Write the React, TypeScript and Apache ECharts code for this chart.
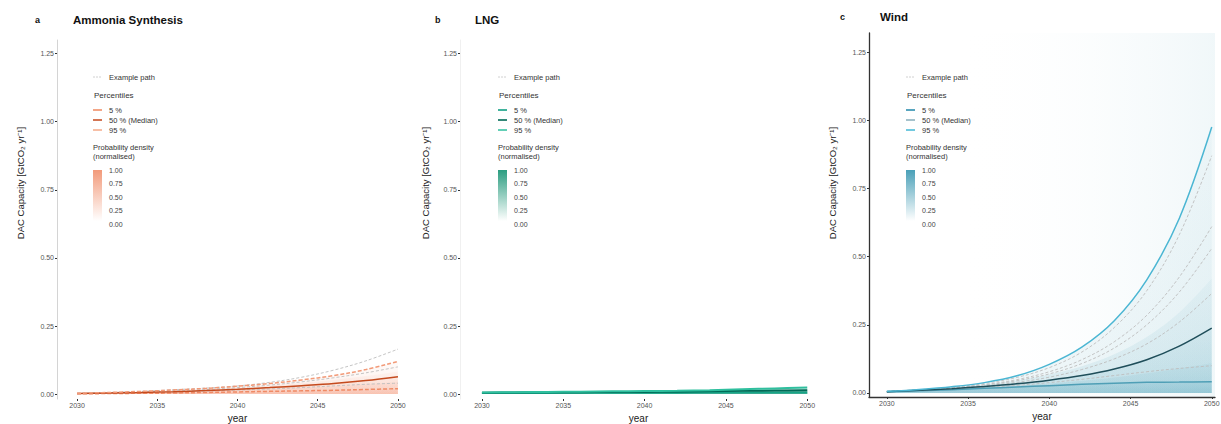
import React, { useEffect, useRef } from "react";
import * as echarts from "echarts";

const YEARS = [2030, 2032, 2034, 2036, 2038, 2040, 2042, 2044, 2046, 2048, 2050];
const X_TICKS = [2030, 2035, 2040, 2045, 2050];
const Y_TICKS = [0, 0.25, 0.5, 0.75, 1.0, 1.25];
const DENSITY_TICKS = ["1.00", "0.75", "0.50", "0.25", "0.00"];
const PCT_LABELS = ["5 %", "50 % (Median)", "95 %"];
const PANEL_TITLES = ["Ammonia Synthesis", "LNG", "Wind"];
const PANEL_LETTERS = ["a", "b", "c"];

// a — Ammonia Synthesis
const AMM_P5 = [0.001, 0.002, 0.003, 0.004, 0.006, 0.008, 0.01, 0.012, 0.014, 0.017, 0.02];
const AMM_P25 = [0.002, 0.003, 0.005, 0.007, 0.01, 0.014, 0.018, 0.023, 0.029, 0.036, 0.045];
const AMM_P50 = [0.002, 0.004, 0.006, 0.009, 0.013, 0.018, 0.024, 0.031, 0.039, 0.05, 0.064];
const AMM_P75 = [0.003, 0.005, 0.008, 0.012, 0.017, 0.023, 0.031, 0.041, 0.052, 0.066, 0.083];
const AMM_P95 = [0.003, 0.006, 0.01, 0.015, 0.021, 0.029, 0.039, 0.052, 0.068, 0.09, 0.12];
const AMM_EX1 = [0.003, 0.006, 0.01, 0.016, 0.022, 0.03, 0.043, 0.062, 0.088, 0.122, 0.165];
const AMM_EX2 = [0.002, 0.005, 0.008, 0.012, 0.017, 0.024, 0.033, 0.045, 0.06, 0.078, 0.1];
const AMM_EX3 = [0.002, 0.003, 0.005, 0.008, 0.011, 0.015, 0.019, 0.024, 0.03, 0.036, 0.04];

// b — LNG
const LNG_P5 = [0.004, 0.004, 0.004, 0.005, 0.005, 0.005, 0.005, 0.006, 0.006, 0.006, 0.006];
const LNG_P25 = [0.004, 0.005, 0.006, 0.006, 0.007, 0.007, 0.007, 0.008, 0.009, 0.01, 0.011];
const LNG_P50 = [0.005, 0.006, 0.007, 0.007, 0.008, 0.008, 0.009, 0.01, 0.012, 0.013, 0.014];
const LNG_P75 = [0.005, 0.006, 0.007, 0.008, 0.009, 0.01, 0.011, 0.012, 0.015, 0.017, 0.019];
const LNG_P95 = [0.006, 0.007, 0.008, 0.009, 0.01, 0.011, 0.012, 0.014, 0.018, 0.021, 0.024];

// c — Wind
const WIND_P5 = [0.005, 0.008, 0.012, 0.017, 0.022, 0.027, 0.032, 0.036, 0.039, 0.04, 0.041];
const WIND_P25 = [0.005, 0.009, 0.014, 0.02, 0.027, 0.035, 0.045, 0.057, 0.072, 0.09, 0.11];
const WIND_P50 = [0.005, 0.01, 0.016, 0.024, 0.034, 0.047, 0.064, 0.088, 0.122, 0.172, 0.238];
const WIND_P75 = [0.006, 0.012, 0.02, 0.031, 0.046, 0.068, 0.098, 0.142, 0.205, 0.295, 0.42];
const WIND_P95 = [0.006, 0.013, 0.023, 0.038, 0.063, 0.105, 0.168, 0.265, 0.415, 0.64, 0.975];
const WIND_EX1 = [0.006, 0.012, 0.021, 0.035, 0.057, 0.093, 0.15, 0.24, 0.375, 0.58, 0.87];
const WIND_EX2 = [0.006, 0.011, 0.019, 0.031, 0.049, 0.078, 0.122, 0.188, 0.285, 0.425, 0.61];
const WIND_EX3 = [0.005, 0.011, 0.018, 0.029, 0.045, 0.07, 0.108, 0.165, 0.25, 0.37, 0.53];
const WIND_EX4 = [0.005, 0.01, 0.017, 0.026, 0.039, 0.058, 0.086, 0.125, 0.18, 0.26, 0.365];
const WIND_EX5 = [0.005, 0.009, 0.014, 0.02, 0.028, 0.038, 0.05, 0.064, 0.078, 0.09, 0.1];

const FONT = "Liberation Sans, Arial, Helvetica, sans-serif";

type PanelCfg = {
  p5: number[]; p25: number[]; p50: number[]; p75: number[]; p95: number[];
  examples: number[][];
  rgb: string;
  lineColors: string[];
  legendColors: string[];
  gradColor: string;
  opac: number[]; // layered fills: p95, p75, p50, p25, p5
};

const PANELS: PanelCfg[] = [
  {
    p5: AMM_P5, p25: AMM_P25, p50: AMM_P50, p75: AMM_P75, p95: AMM_P95,
    examples: [AMM_EX1, AMM_EX2, AMM_EX3],
    rgb: "239,120,80",
    lineColors: ["#f08a65", "#c44a1e", "#f29a78"],
    legendColors: ["#f0906a", "#c8532a", "#f5b090"],
    gradColor: "#f29a7a",
    opac: [0.14, 0.16, 0.16, 0.16, 0.18],
  },
  {
    p5: LNG_P5, p25: LNG_P25, p50: LNG_P50, p75: LNG_P75, p95: LNG_P95,
    examples: [],
    rgb: "10,130,100",
    lineColors: ["#17a587", "#006b57", "#2fbf9e"],
    legendColors: ["#12a085", "#006b57", "#3cc4a4"],
    gradColor: "#2b9d80",
    opac: [0.35, 0.3, 0.3, 0.3, 0.3],
  },
  {
    p5: WIND_P5, p25: WIND_P25, p50: WIND_P50, p75: WIND_P75, p95: WIND_P95,
    examples: [WIND_EX1, WIND_EX2, WIND_EX3, WIND_EX4, WIND_EX5],
    rgb: "74,160,184",
    lineColors: ["#4f9fb6", "#1f4e5a", "#4bb6d3"],
    legendColors: ["#2f8fb0", "#8fb3c0", "#4fbcd8"],
    gradColor: "#4aa0b8",
    opac: [0.13, 0.18, 0.2, 0.22, 0.3],
  },
];

const GRIDS = [
  { left: 57, top: 40, width: 361, height: 359, xmin: 2028.75, xmax: 2051.25, ymin: -0.018, ymax: 1.3, nameGap: 12 },
  { left: 460, top: 40, width: 357, height: 359, xmin: 2028.65, xmax: 2050.6, ymin: -0.018, ymax: 1.3, nameGap: 12 },
  { left: 869, top: 33, width: 346, height: 364, xmin: 2028.9, xmax: 2050.2, ymin: -0.0147, ymax: 1.32, nameGap: 14 },
];

const AXIS_STYLE = [
  { yLine: "#d4d4d4", xLine: null as string | null, width: 1 },
  { yLine: "#f0f0f0", xLine: null as string | null, width: 1 },
  { yLine: "#333333", xLine: "#333333" as string | null, width: 1.3 },
];

const LEGEND_X = [93, 498, 906];
const YTITLE_X = [20, 425, 832];
const TITLE_POS = [
  { lx: 35, tx: 73, y: 20 },
  { lx: 435, tx: 475, y: 20 },
  { lx: 840, tx: 880, y: 17 },
];

function pairs(ys: number[]) {
  return YEARS.map((x, i) => [x, ys[i]]);
}

function buildSeries(gi: number, p: PanelCfg) {
  const base = { type: "line", xAxisIndex: gi, yAxisIndex: gi, symbol: "none", smooth: 0.35, silent: true };
  const s: any[] = [];
  const layers = [p.p95, p.p75, p.p50, p.p25, p.p5];
  layers.forEach((arr, k) => {
    s.push({
      ...base, data: pairs(arr), lineStyle: { opacity: 0 }, z: 1,
      areaStyle: {
        origin: "auto",
        color: new echarts.graphic.LinearGradient(0, 0, 0, 1, [
          { offset: 0, color: `rgba(${p.rgb},${(p.opac[k] * 0.4).toFixed(3)})` },
          { offset: 1, color: `rgba(${p.rgb},${p.opac[k]})` },
        ]),
      },
    });
  });
  p.examples.forEach((ex) => {
    s.push({ ...base, data: pairs(ex), z: 3, lineStyle: { color: "#bdbdbd", width: 0.9, type: [3, 2] } });
  });
  const pct = [p.p5, p.p50, p.p95];
  pct.forEach((arr, k) => {
    s.push({
      ...base, data: pairs(arr), z: 5,
      lineStyle: { color: p.lineColors[k], width: gi === 1 ? 2 : 1.5, type: gi === 0 && k !== 1 ? [4, 2] : "solid" },
    });
  });
  return s;
}

function legendEls(gi: number) {
  const ox = LEGEND_X[gi];
  const p = PANELS[gi];
  const txt = (x: number, y: number, text: string, size = 7.5, fill = "#333") => ({
    type: "text", x, y, silent: true,
    style: { text, fontSize: size, fontFamily: FONT, fill, align: "left", verticalAlign: "middle" },
  });
  const els: any[] = [];
  els.push({ type: "line", silent: true, shape: { x1: ox, y1: 77, x2: ox + 8, y2: 77 }, style: { stroke: "#d0d0d0", lineWidth: 1, lineDash: [2, 1] } });
  els.push(txt(ox + 16, 77, "Example path"));
  els.push(txt(ox + 1, 95, "Percentiles", 8));
  PCT_LABELS.forEach((lab, i) => {
    const y = 110 + 10 * i;
    els.push({ type: "line", silent: true, shape: { x1: ox, y1: y, x2: ox + 9, y2: y }, style: { stroke: p.legendColors[i], lineWidth: 1.6 } });
    els.push(txt(ox + 16, y, lab));
  });
  els.push(txt(ox, 147, "Probability density", 7.5));
  els.push(txt(ox, 156.5, "(normalised)", 7.5));
  els.push({
    type: "rect", silent: true, shape: { x: ox, y: 170, width: 9, height: 51 },
    style: {
      fill: new echarts.graphic.LinearGradient(0, 0, 0, 1, [
        { offset: 0, color: p.gradColor },
        { offset: 1, color: "#ffffff" },
      ]),
    },
  });
  DENSITY_TICKS.forEach((t, i) => els.push(txt(ox + 16, 170 + 13.5 * i, t, 7, "#444")));
  return els;
}

export default function App() {
  const ref = useRef<HTMLDivElement>(null);
  useEffect(() => {
    if (!ref.current) return;
    const chart = echarts.init(ref.current, undefined, { renderer: "svg" });
    const grid = GRIDS.map((g, i) => ({
      left: g.left, top: g.top, width: g.width, height: g.height,
      outerBoundsMode: "none",
      containLabel: false,
      show: i === 2,
      borderWidth: 0,
      backgroundColor: i === 2
        ? new echarts.graphic.LinearGradient(0, 0, 1, 0, [
            { offset: 0, color: "rgba(255,255,255,0)" },
            { offset: 0.25, color: "rgba(255,255,255,0)" },
            { offset: 1, color: "rgba(74,160,184,0.08)" },
          ])
        : "transparent",
    }));
    const xAxis = GRIDS.map((g, i) => ({
      type: "value", gridIndex: i, min: g.xmin, max: g.xmax,
      name: "year", nameLocation: "middle", nameGap: g.nameGap,
      nameTextStyle: { fontSize: 10, color: "#222", fontFamily: FONT },
      axisLine: { show: !!AXIS_STYLE[i].xLine, onZero: false, lineStyle: { color: AXIS_STYLE[i].xLine || "#333", width: AXIS_STYLE[i].width } },
      axisTick: { show: true, customValues: X_TICKS, length: 2, lineStyle: { color: "#333" } },
      axisLabel: { customValues: X_TICKS, fontSize: 7, color: "#555", margin: 3, fontFamily: FONT, formatter: (v: number) => String(Math.round(v)) },
      splitLine: { show: false },
    }));
    const yAxis = GRIDS.map((g, i) => ({
      type: "value", gridIndex: i, min: g.ymin, max: g.ymax,
      axisLine: { show: true, onZero: false, lineStyle: { color: AXIS_STYLE[i].yLine, width: AXIS_STYLE[i].width } },
      axisTick: { show: true, customValues: Y_TICKS, length: 2, lineStyle: { color: "#333" } },
      axisLabel: { customValues: Y_TICKS, fontSize: 7, color: "#555", margin: 3, fontFamily: FONT, formatter: (v: number) => v.toFixed(2) },
      splitLine: { show: false },
    }));
    const series: any[] = [];
    PANELS.forEach((p, i) => series.push(...buildSeries(i, p)));
    const graphic: any[] = [];
    PANELS.forEach((_, i) => {
      graphic.push(...legendEls(i));
      graphic.push({
        type: "text", x: TITLE_POS[i].lx, y: TITLE_POS[i].y, silent: true,
        style: { text: PANEL_LETTERS[i], fontSize: 9, fontWeight: "bold", fontFamily: FONT, fill: "#111", align: "left", verticalAlign: "middle" },
      });
      graphic.push({
        type: "text", x: TITLE_POS[i].tx, y: TITLE_POS[i].y, silent: true,
        style: { text: PANEL_TITLES[i], fontSize: 11.5, fontWeight: "bold", fontFamily: FONT, fill: "#111", align: "left", verticalAlign: "middle" },
      });
      graphic.push({
        type: "text", x: YTITLE_X[i], y: 183, rotation: Math.PI / 2, silent: true,
        style: { text: "DAC Capacity [GtCO₂ yr⁻¹]", fontSize: 9.5, fontFamily: FONT, fill: "#222", align: "center", verticalAlign: "middle" },
      });
    });
    chart.setOption({
      animation: false,
      backgroundColor: "#ffffff",
      textStyle: { fontFamily: FONT },
      grid, xAxis, yAxis, series, graphic,
    });
    return () => chart.dispose();
  }, []);
  return <div ref={ref} style={{ position: "absolute", left: 0, top: 0, width: 1221, height: 424 }} />;
}
